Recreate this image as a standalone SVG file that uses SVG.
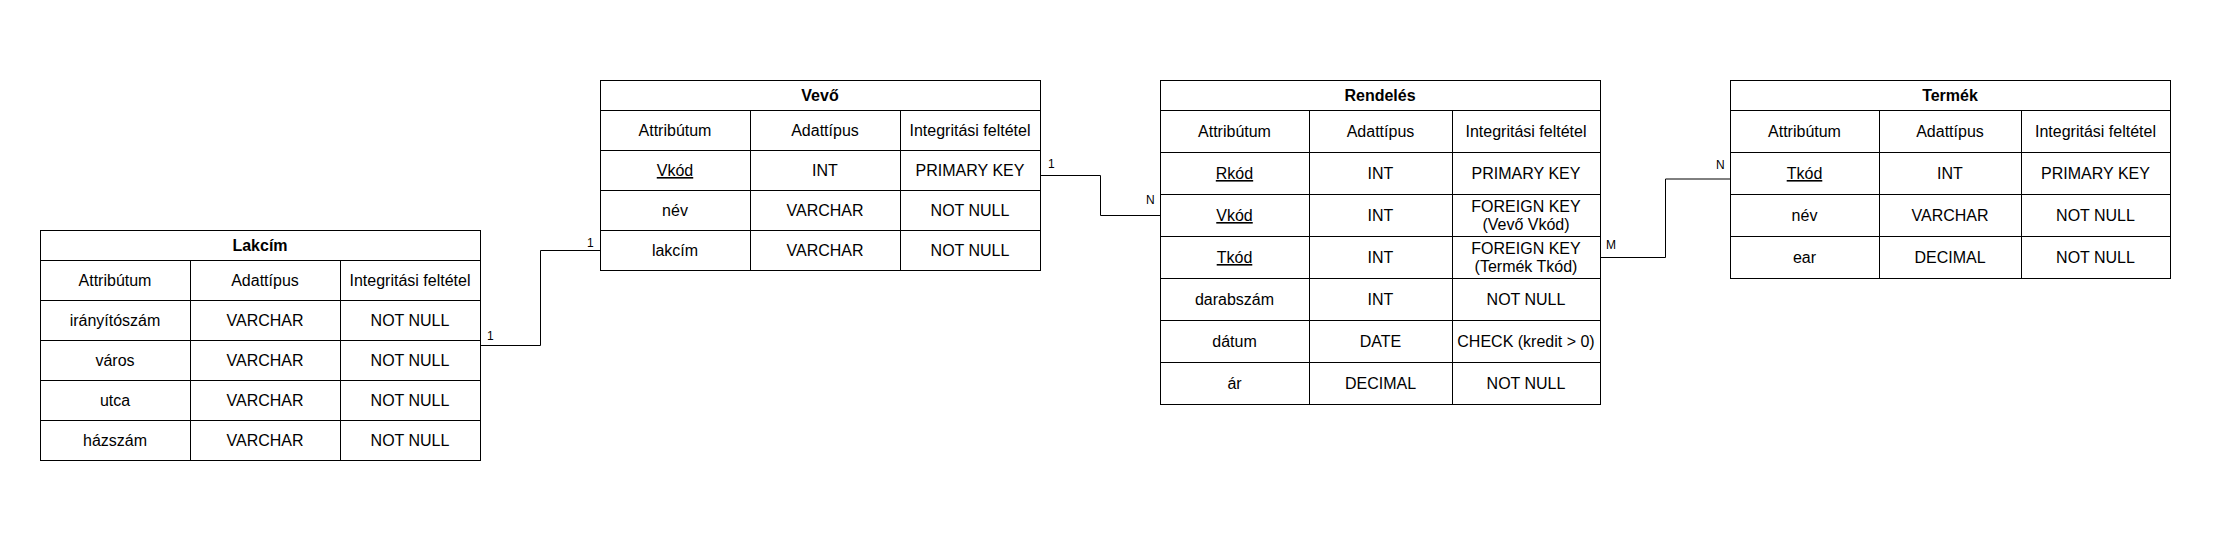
<svg xmlns="http://www.w3.org/2000/svg" width="2220" height="560" viewBox="0 0 2220 560">
<style>
.t{font-family:"Liberation Sans",Arial,Helvetica,sans-serif;font-size:16px;fill:#000;text-anchor:middle}
.h{font-weight:bold}
.u{text-decoration:underline}
.lbl{font-family:"Liberation Sans",Arial,Helvetica,sans-serif;font-size:12px;fill:#000}
.box{fill:#fff;stroke:#000;stroke-width:1}
.ln{stroke:#000;stroke-width:1;fill:none}
.edge{stroke:#000;stroke-width:1;fill:none}
</style>
<rect width="2220" height="560" fill="#fff"/>

<g id="lakcim">
<rect class="box" x="40.5" y="230.5" width="440" height="230"/>
<path class="ln" d="M40.5 260.5H480.5M40.5 300.5H480.5M40.5 340.5H480.5M40.5 380.5H480.5M40.5 420.5H480.5M190.5 260.5V460.5M340.5 260.5V460.5"/>
<text class="t h" x="260" y="251">Lakcím</text>
<text class="t" x="115" y="286">Attribútum</text>
<text class="t" x="265" y="286">Adattípus</text>
<text class="t" x="410" y="286">Integritási feltétel</text>
<text class="t" x="115" y="326">irányítószám</text>
<text class="t" x="265" y="326">VARCHAR</text>
<text class="t" x="410" y="326">NOT NULL</text>
<text class="t" x="115" y="366">város</text>
<text class="t" x="265" y="366">VARCHAR</text>
<text class="t" x="410" y="366">NOT NULL</text>
<text class="t" x="115" y="406">utca</text>
<text class="t" x="265" y="406">VARCHAR</text>
<text class="t" x="410" y="406">NOT NULL</text>
<text class="t" x="115" y="446">házszám</text>
<text class="t" x="265" y="446">VARCHAR</text>
<text class="t" x="410" y="446">NOT NULL</text>
</g>

<g id="vevo">
<rect class="box" x="600.5" y="80.5" width="440" height="190"/>
<path class="ln" d="M600.5 110.5H1040.5M600.5 150.5H1040.5M600.5 190.5H1040.5M600.5 230.5H1040.5M750.5 110.5V270.5M900.5 110.5V270.5"/>
<text class="t h" x="820" y="101">Vevő</text>
<text class="t" x="675" y="136">Attribútum</text>
<text class="t" x="825" y="136">Adattípus</text>
<text class="t" x="970" y="136">Integritási feltétel</text>
<text class="t u" x="675" y="176">Vkód</text>
<text class="t" x="825" y="176">INT</text>
<text class="t" x="970" y="176">PRIMARY KEY</text>
<text class="t" x="675" y="216">név</text>
<text class="t" x="825" y="216">VARCHAR</text>
<text class="t" x="970" y="216">NOT NULL</text>
<text class="t" x="675" y="256">lakcím</text>
<text class="t" x="825" y="256">VARCHAR</text>
<text class="t" x="970" y="256">NOT NULL</text>
</g>

<g id="rendeles">
<rect class="box" x="1160.5" y="80.5" width="440" height="324"/>
<path class="ln" d="M1160.5 110.5H1600.5M1160.5 152.5H1600.5M1160.5 194.5H1600.5M1160.5 236.5H1600.5M1160.5 278.5H1600.5M1160.5 320.5H1600.5M1160.5 362.5H1600.5M1309.5 110.5V404.5M1452.5 110.5V404.5"/>
<text class="t h" x="1380" y="101">Rendelés</text>
<text class="t" x="1234.5" y="137">Attribútum</text>
<text class="t" x="1380.5" y="137">Adattípus</text>
<text class="t" x="1526" y="137">Integritási feltétel</text>
<text class="t u" x="1234.5" y="179">Rkód</text>
<text class="t" x="1380.5" y="179">INT</text>
<text class="t" x="1526" y="179">PRIMARY KEY</text>
<text class="t u" x="1234.5" y="221">Vkód</text>
<text class="t" x="1380.5" y="221">INT</text>
<text class="t" x="1526" y="212">FOREIGN KEY</text>
<text class="t" x="1526" y="230">(Vevő Vkód)</text>
<text class="t u" x="1234.5" y="263">Tkód</text>
<text class="t" x="1380.5" y="263">INT</text>
<text class="t" x="1526" y="254">FOREIGN KEY</text>
<text class="t" x="1526" y="272">(Termék Tkód)</text>
<text class="t" x="1234.5" y="305">darabszám</text>
<text class="t" x="1380.5" y="305">INT</text>
<text class="t" x="1526" y="305">NOT NULL</text>
<text class="t" x="1234.5" y="347">dátum</text>
<text class="t" x="1380.5" y="347">DATE</text>
<text class="t" x="1526" y="347">CHECK (kredit &gt; 0)</text>
<text class="t" x="1234.5" y="389">ár</text>
<text class="t" x="1380.5" y="389">DECIMAL</text>
<text class="t" x="1526" y="389">NOT NULL</text>
</g>

<g id="termek">
<rect class="box" x="1730.5" y="80.5" width="440" height="198"/>
<path class="ln" d="M1730.5 110.5H2170.5M1730.5 152.5H2170.5M1730.5 194.5H2170.5M1730.5 236.5H2170.5M1879.5 110.5V278.5M2021.5 110.5V278.5"/>
<text class="t h" x="1950" y="101">Termék</text>
<text class="t" x="1804.5" y="137">Attribútum</text>
<text class="t" x="1950" y="137">Adattípus</text>
<text class="t" x="2095.5" y="137">Integritási feltétel</text>
<text class="t u" x="1804.5" y="179">Tkód</text>
<text class="t" x="1950" y="179">INT</text>
<text class="t" x="2095.5" y="179">PRIMARY KEY</text>
<text class="t" x="1804.5" y="221">név</text>
<text class="t" x="1950" y="221">VARCHAR</text>
<text class="t" x="2095.5" y="221">NOT NULL</text>
<text class="t" x="1804.5" y="263">ear</text>
<text class="t" x="1950" y="263">DECIMAL</text>
<text class="t" x="2095.5" y="263">NOT NULL</text>
</g>

<g id="connectors">
<path class="edge" d="M480.5 345.5H540.5V250.5H600.5"/>
<path class="edge" d="M1040.5 175.5H1100.5V215.5H1160.5"/>
<path class="edge" d="M1600.5 257.5H1665.5V179H1730.5"/>
<text class="lbl" x="487" y="340">1</text>
<text class="lbl" x="587" y="246.5">1</text>
<text class="lbl" x="1048" y="168">1</text>
<text class="lbl" x="1146" y="204">N</text>
<text class="lbl" x="1606" y="248.5">M</text>
<text class="lbl" x="1716" y="169">N</text>
</g>
</svg>
